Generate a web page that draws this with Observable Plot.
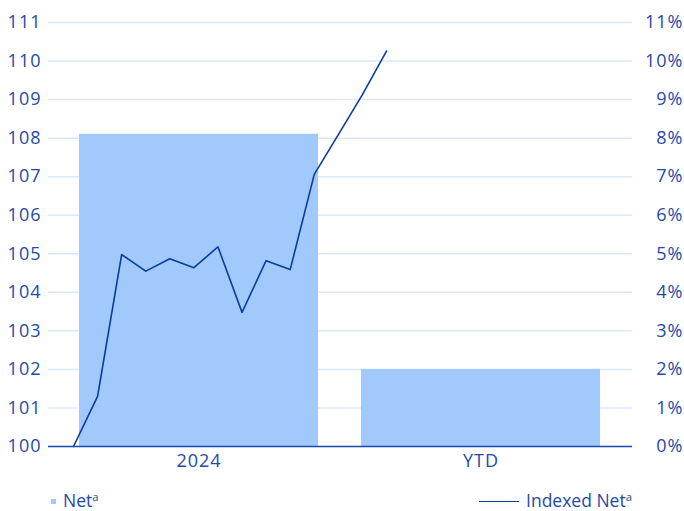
<!DOCTYPE html>
<html><head><meta charset="utf-8">
<script src="https://cdn.jsdelivr.net/npm/d3@7"></script>
<script src="https://cdn.jsdelivr.net/npm/@observablehq/plot@0.6"></script>
<style>
body{margin:0;background:#fff;font-family:"Open Sans",sans-serif;}
#wrap{position:relative;width:684px;height:511px;overflow:hidden;}
#wrap svg{position:absolute;left:0;top:0;}
.leg{position:absolute;top:489px;height:24px;font-size:17.5px;line-height:24px;color:#1f4aa8;white-space:nowrap;display:flex;align-items:center;}
.leg .sp{font-size:0.65em;position:relative;top:-0.45em;}
.sq{display:inline-block;width:5px;height:5px;background:#a2c9fb;margin-right:7px;}
.ln{display:inline-block;width:40px;height:0;border-top:1.6px solid #0a3c9e;margin-right:7px;}
</style></head><body><div id="wrap"></div>
<script>
// ---- data ----
const categories = ["2024", "YTD"];
const netPct = [8.1, 2.0];
const indexPeriods = [0, 1, 2, 3, 4, 5, 6, 7, 8, 9, 10, 11, 12, 13];
const indexedNet = [100, 101.3, 104.98, 104.55, 104.87, 104.64, 105.18, 103.48, 104.82, 104.59, 107.06, 108.09, 109.13, 110.26];
const yTicks = [100, 101, 102, 103, 104, 105, 106, 107, 108, 109, 110, 111];

const TEXT = "#1f4aa8", GRID = "#dde9f9", BAR = "#a2c9fb", LINE = "#0a3c9e", BASE = "#1748b0";
const W = 684, H = 484, TOP = 22, BOT = 446;

const bars = categories.map((c, i) => ({cat: c, base: 100, top: 100 + netPct[i]}));
const lineData = indexPeriods.map((p, i) => ({p, v: indexedNet[i]}));

const chart = Plot.plot({
  width: W, height: H,
  marginLeft: 48, marginRight: 52, marginTop: TOP, marginBottom: H - BOT,
  style: {fontFamily: '"Open Sans", sans-serif', fontSize: "18px", letterSpacing: "1px", color: TEXT, background: "transparent", overflow: "visible"},
  x: {domain: categories, paddingInner: 0.152, paddingOuter: 0.108},
  y: {domain: [100, 111]},
  marks: [
    Plot.ruleY(yTicks.slice(1), {stroke: GRID, strokeWidth: 1.5}),
    Plot.barY(bars, {x: "cat", y1: "base", y2: "top", fill: BAR}),
    Plot.ruleY([100], {stroke: BASE, strokeWidth: 1.5}),
    Plot.axisX({tickSize: 0, tickPadding: 8, label: null}),
    Plot.axisY(yTicks, {anchor: "left", tickSize: 0, tickPadding: 7, label: null}),
    Plot.axisY(yTicks, {anchor: "right", tickSize: 0, tickPadding: 0, textAnchor: "end", dx: 51, tickFormat: d => `${d - 100}%`, label: null})
  ]
});

const line = Plot.plot({
  width: W, height: H,
  marginLeft: 73, marginRight: W - 386, marginTop: TOP, marginBottom: H - BOT,
  style: {background: "transparent", overflow: "visible"},
  x: {domain: [indexPeriods[0], indexPeriods[indexPeriods.length - 1]], axis: null},
  y: {domain: [100, 111], axis: null},
  marks: [
    Plot.lineY(lineData, {x: "p", y: "v", stroke: LINE, strokeWidth: 1.6})
  ]
});
line.style.pointerEvents = "none";

const wrap = document.getElementById("wrap");
wrap.appendChild(chart);
wrap.appendChild(line);

const l1 = document.createElement("div");
l1.className = "leg"; l1.style.left = "51px";
l1.innerHTML = '<span class="sq"></span><span>Net<span class="sp">a</span></span>';
const l2 = document.createElement("div");
l2.className = "leg"; l2.style.right = "52px";
l2.innerHTML = '<span class="ln"></span><span>Indexed Net<span class="sp">a</span></span>';
wrap.appendChild(l1); wrap.appendChild(l2);
</script></body></html>
